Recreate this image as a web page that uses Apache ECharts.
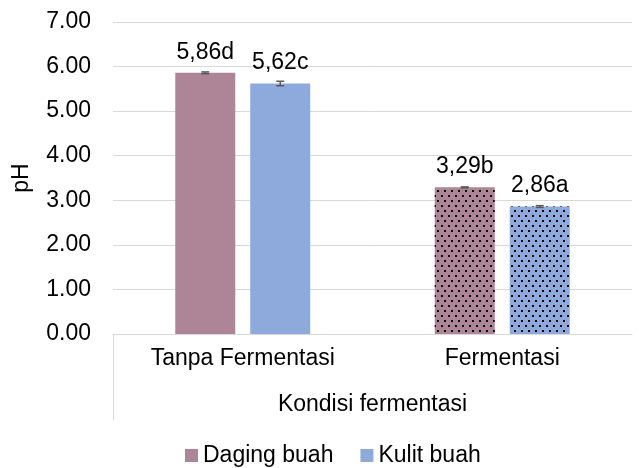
<!DOCTYPE html>
<html>
<head>
<meta charset="utf-8">
<script src="https://cdn.jsdelivr.net/npm/echarts@6/dist/echarts.min.js"></script>
<style>
  html, body { margin: 0; padding: 0; background: #fff; }
  #chart { width: 644px; height: 468px; }
</style>
</head>
<body>
<div id="chart"></div>
<script>
  var categories = ['Tanpa Fermentasi', 'Fermentasi'];
  var dagingValues = [5.86, 3.29];
  var kulitValues = [5.62, 2.86];
  var dagingErr = [0.02, 0.01];
  var kulitErr = [0.05, 0.02];
  var dagingLetters = ['d', 'b'];
  var kulitLetters = ['c', 'a'];
  var yTicks = [0, 1, 2, 3, 4, 5, 6, 7];

  var font = 'Liberation Sans, Arial, sans-serif';
  var fs = 23;
  var dotDecal = {
    symbol: 'rect',
    symbolSize: 1,
    color: '#000',
    dashArrayX: [[1.5, 4.5], [0, 3, 1.5, 1.5]],
    dashArrayY: [1.5, 2.5],
    rotation: 0
  };

  function barData(values, color) {
    return values.map(function (v, i) {
      // second category (Fermentasi) is drawn with a dot pattern
      var item = { value: v, itemStyle: { color: color } };
      if (i === 1) item.itemStyle.decal = dotDecal;
      return item;
    });
  }

  function labelFmt(letters) {
    return function (p) {
      return p.value.toFixed(2).replace('.', ',') + letters[p.dataIndex];
    };
  }

  // error bars, shifted to sit over each bar of the group
  function errorSeries(values, errs, offset) {
    return {
      type: 'custom',
      name: 'err',
      silent: true,
      z: 5,
      data: values.map(function (v, i) { return [i, v - errs[i], v + errs[i]]; }),
      renderItem: function (params, api) {
        var lo = api.coord([api.value(0), api.value(1)]);
        var hi = api.coord([api.value(0), api.value(2)]);
        var bw = api.size([1, 0])[0];
        var x = lo[0] + bw * offset;
        var half = 4;
        var st = { stroke: '#595959', lineWidth: 1.5 };
        return {
          type: 'group',
          children: [
            { type: 'line', shape: { x1: x, y1: lo[1], x2: x, y2: hi[1] }, style: st },
            { type: 'line', shape: { x1: x - half, y1: lo[1], x2: x + half, y2: lo[1] }, style: st },
            { type: 'line', shape: { x1: x - half, y1: hi[1], x2: x + half, y2: hi[1] }, style: st }
          ]
        };
      }
    };
  }

  var myChart = echarts.init(document.getElementById('chart'));
  myChart.setOption({
    animation: false,
    textStyle: { fontFamily: font },
    grid: { left: 113, right: 12, top: 22, bottom: 134 },
    legend: {
      top: 439,
      left: 180,
      data: ['Daging buah', 'Kulit buah'],
      icon: 'rect',
      itemWidth: 13,
      itemHeight: 13,
      itemGap: 27,
      textStyle: { fontSize: fs, color: '#000', fontFamily: font }
    },
    xAxis: {
      type: 'category',
      data: categories,
      name: 'Kondisi fermentasi',
      nameLocation: 'middle',
      nameGap: 59,
      nameTextStyle: { fontSize: fs, color: '#000', fontFamily: font },
      axisLine: { lineStyle: { color: '#d9d9d9', width: 1 } },
      axisTick: { show: false },
      axisLabel: { fontSize: fs, color: '#000', margin: 13, fontFamily: font }
    },
    yAxis: {
      type: 'value',
      min: 0,
      max: 7,
      interval: 1,
      name: 'pH',
      nameLocation: 'middle',
      nameGap: 80,
      nameTextStyle: { fontSize: fs, color: '#000', fontFamily: font },
      axisLine: { show: false },
      axisTick: { show: false },
      axisLabel: {
        fontSize: fs, color: '#000', margin: 22, fontFamily: font,
        formatter: function (v) { return yTicks.indexOf(v) >= 0 ? v.toFixed(2) : ''; }
      },
      splitLine: { lineStyle: { color: '#d9d9d9', width: 1 } }
    },
    graphic: [{
      type: 'line',
      shape: { x1: 113.5, y1: 334, x2: 113.5, y2: 420 },
      style: { stroke: '#d9d9d9', lineWidth: 1 }
    }],
    series: [{
      name: 'Daging buah',
      type: 'bar',
      barWidth: 60,
      barGap: '25%',
      itemStyle: { color: '#ae8596' },
      data: barData(dagingValues, '#ae8596'),
      label: {
        show: true, position: 'top', distance: 9,
        fontSize: fs, color: '#000', fontFamily: font,
        formatter: labelFmt(dagingLetters)
      }
    }, {
      name: 'Kulit buah',
      type: 'bar',
      barWidth: 60,
      barGap: '25%',
      itemStyle: { color: '#8eaadc' },
      data: barData(kulitValues, '#8eaadc'),
      label: {
        show: true, position: 'top', distance: 9,
        fontSize: fs, color: '#000', fontFamily: font,
        formatter: labelFmt(kulitLetters)
      }
    },
    errorSeries(dagingValues, dagingErr, -37.5 / 259.5),
    errorSeries(kulitValues, kulitErr, 37.5 / 259.5)]
  });
</script>
</body>
</html>
